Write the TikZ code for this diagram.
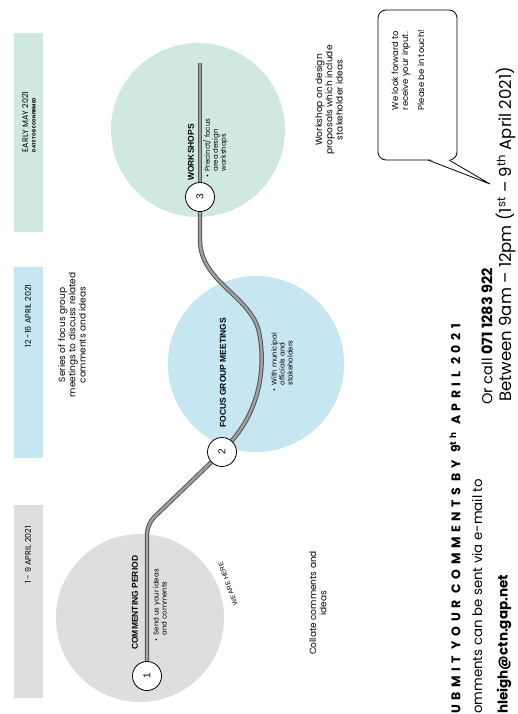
\documentclass[tikz,border=0pt]{standalone}
\usepackage{fontspec}
\setmainfont{Poppins}
\newfontfamily\arialf{Liberation Sans}
\pgfdeclarelayer{back}
\pgfdeclarelayer{mid}
\pgfsetlayers{back,mid,main}
\definecolor{mint}{HTML}{CFE9E1}
\definecolor{sky}{HTML}{C6E6F2}
\definecolor{haze}{HTML}{DEDEDE}
\definecolor{rope}{HTML}{555555}
\definecolor{ropein}{HTML}{A0A0A0}

\begin{document}
\begin{tikzpicture}[x=1pt,y=-1pt,
  rot/.style={rotate=90, inner sep=0pt},
  marker/.style={circle, draw=black, line width=0.8pt, fill=white,
    minimum size=29pt, inner sep=0pt, rotate=90,
    font=\arialf\fontsize{10}{10}\selectfont},
  heading/.style={rot, anchor=west, font=\arialf\bfseries\fontsize{8.5}{9}\selectfont},
  bullet/.style={rot, anchor=north west, align=left,
    font=\fontsize{7}{8}\selectfont},
  note/.style={rot, align=center, font=\fontsize{9}{10.2}\selectfont},
  datetext/.style={rot, align=left, font=\fontsize{8}{8.5}\selectfont},
  ropeline/.style={draw=rope, line width=1pt, double=ropein, double distance=2.4pt},
]
\useasboundingbox (0,0) rectangle (517,714);

% stage discs and page ground
\begin{pgfonlayer}{back}
  \fill[white] (0,0) rectangle (517,714);
  \fill[haze] (140,618) circle (84pt);
  \fill[sky]  (256,364) circle (88pt);
  \fill[mint] (198,130) circle (87pt);
\end{pgfonlayer}

% date bars
\fill[mint] (14,33) rectangle (43,232);
\fill[sky]  (14,267) rectangle (43,458);
\fill[haze] (14,505) rectangle (43,698);
\node[datetext] (d3) at (29,122) {EARLY MAY 2021\\[-1pt]{\bfseries\fontsize{4.6}{5}\selectfont DATE TO BE CONFIRMED}};
\node[datetext] (d2) at (28,316) {12 -16 APRIL 2021};
\node[datetext] (d1) at (28,555) {1 - 9 APRIL 2021};

% stage markers
\node[marker] (m1) at (147,676) {1};
\node[marker] (m2) at (222,452) {2};
\node[marker] (m3) at (200,197) {3};

% timeline rope
\begin{pgfonlayer}{mid}
  \draw[ropeline, rounded corners=10pt] (m1) -- (147,524) -- (m2);
  \draw[ropeline] (m2) .. controls (257,412) and (267,372) .. (259,332)
                       .. controls (251,296) and (200,282) .. (200,240) -- (m3);
  \draw[ropeline] (m3) -- (200,63);
\end{pgfonlayer}

% stage 1
\node[heading] (h1) at (135,650) {COMMENTING PERIOD};
\node[bullet] (b1) at (153,642) {\textbullet\enspace Send us your ideas\\\phantom{\textbullet\enspace}and comments};
\node[inner sep=0pt, rotate=110, font=\arialf\fontsize{6.5}{7}\selectfont] (here) at (228,584) {WE ARE HERE};

% stage 2
\node[heading] (h2) at (223,428) {FOCUS GROUP MEETINGS};
\node[bullet] (b2) at (271,392) {\textbullet\enspace With municipal\\\phantom{\textbullet\enspace}officials and\\\phantom{\textbullet\enspace}stakeholders};

% stage 3
\node[heading] (h3) at (191,181) {WORKSHOPS};
\node[bullet] (b3) at (203,178) {\textbullet\enspace Precinct/ focus\\\phantom{\textbullet\enspace}area design\\\phantom{\textbullet\enspace}workshops};

% descriptions
\node[note] (n2) at (72,335) {Series of focus group\\meetings to discuss related\\comments and ideas};
\node[note] (n3) at (329,100) {Workshop on design\\proposals which include\\stakeholder ideas};
\node[note] (n1) at (318,603) {Collate comments and\\ideas};

% speech bubble
\node[draw, line width=0.8pt, rounded corners=8pt, minimum width=79pt,
      minimum height=150pt, fill=white] (bubble) at (417.5,85) {};
\coordinate (tip) at (490,184);
\fill[white] (428,158.5) -- (tip) -- (449,158.5) -- cycle;
\draw[line width=0.8pt] (428,160) -- (tip) -- (449,160);
\node[rot, align=left, font=\fontsize{8.5}{10}\selectfont] (say) at (408,70)
  {We look forward to\\receive your input.\\[6pt]Please be in touch!};

% contact lines
\node[rot, anchor=west, font=\bfseries\fontsize{12.5}{12.5}\selectfont\addfontfeatures{LetterSpace=36}] (submit) at (455,714)
  {UBMIT YOUR COMMENTS BY 9\textsuperscript{th} APRIL 2021};
\node[rot, anchor=west, font=\fontsize{13.3}{14}\selectfont] (mail) at (477,714) {omments can be sent via e-mail to};
\node[rot, anchor=west, font=\bfseries\fontsize{13.5}{14}\selectfont] (addr) at (504,714) {hleigh@ctn.gap.net};
\node[rot, anchor=west, font=\fontsize{14.5}{15}\selectfont] (call) at (487,405) {Or call \textbf{071 1283 922}};
\node[rot, anchor=west, font=\fontsize{16.5}{17}\selectfont] (hours) at (506,402)
  {Between 9am -- 12pm (1\textsuperscript{st} -- 9\textsuperscript{th} April 2021)};
\end{tikzpicture}
\end{document}
